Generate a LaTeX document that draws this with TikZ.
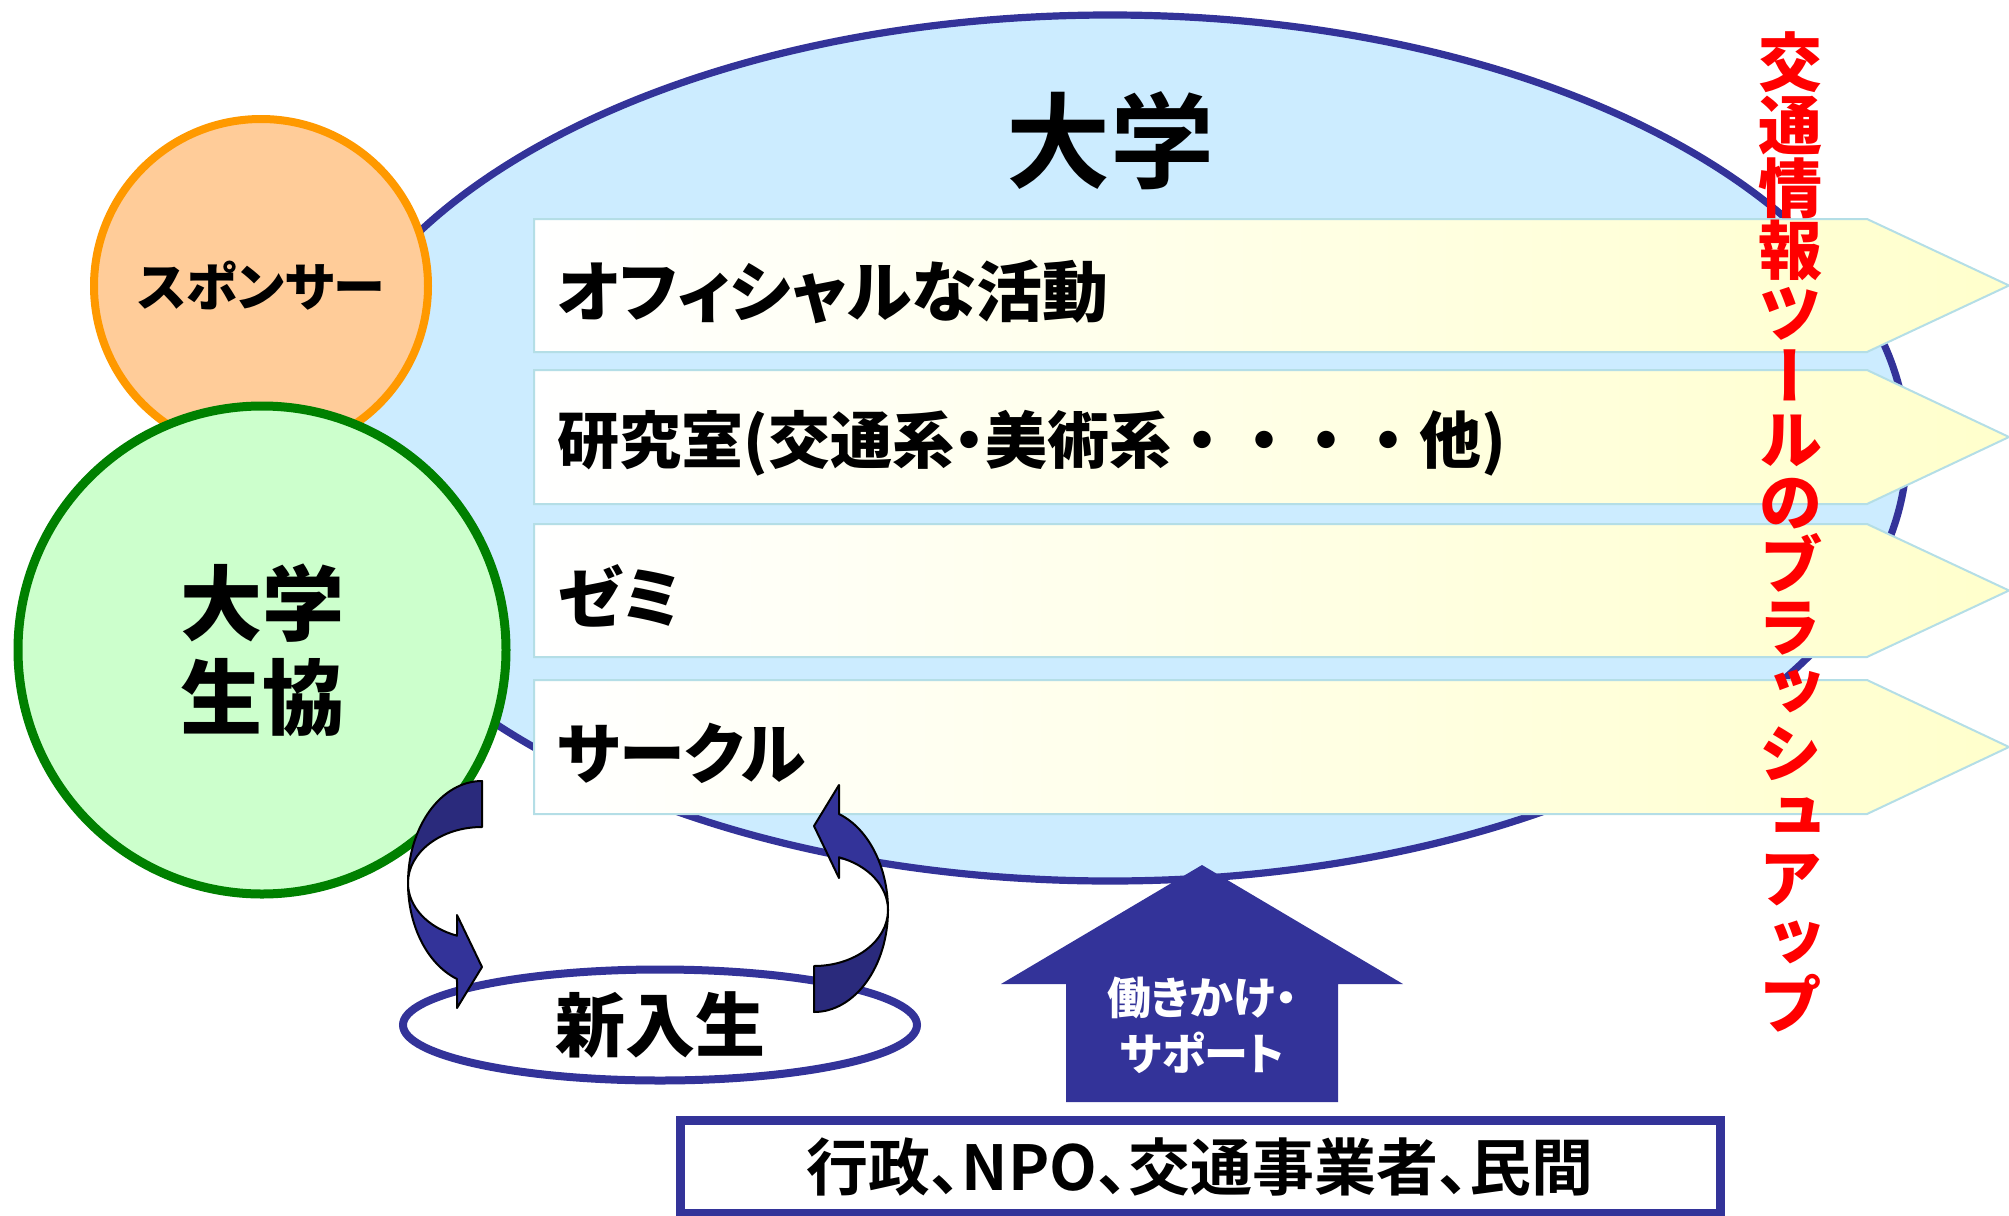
\documentclass[tikz,border=0pt]{standalone}
\usepackage{fontspec}
\usetikzlibrary{shapes.geometric}
\IfFontExistsTF{Noto Sans CJK JP Black}{%
  \newfontfamily\jpk{Noto Sans CJK JP Black}[RawFeature=+palt]
  \newfontfamily\jpkn{Noto Sans CJK JP Black}
  \newfontfamily\jpkv{Noto Sans CJK JP Black}[RawFeature=+vert]
}{%
  \newfontfamily\jpk{Noto Sans CJK JP Bold}[RawFeature=+palt]
  \newfontfamily\jpkn{Noto Sans CJK JP Bold}
  \newfontfamily\jpkv{Noto Sans CJK JP Bold}[RawFeature=+vert]
}
\newfontfamily\jpb{Noto Sans CJK JP Bold}
\newfontfamily\jpbp{Noto Sans CJK JP Bold}[RawFeature=+palt]
\definecolor{uniblue}{HTML}{333399}
\definecolor{unifill}{HTML}{CCECFF}
\definecolor{sponfill}{HTML}{FFCC99}
\definecolor{sponline}{HTML}{FF9900}
\definecolor{coopfill}{HTML}{CCFFCC}
\definecolor{coopline}{HTML}{008000}
\definecolor{pentline}{HTML}{B4DEE6}
\definecolor{pentright}{HTML}{FFFFCC}
\definecolor{arrdark}{HTML}{2A2A7C}
\definecolor{redtext}{HTML}{FF0000}
\tikzset{
  pentbox/.style={draw=pentline, line width=1pt, left color=white, right color=pentright, shading angle=90},
  penttext/.style={anchor=west, inner sep=0pt, font=\jpk\fontsize{32}{36}\selectfont},
  curvarr/.pic={
    \filldraw[fill=arrdark, draw=black, line width=1pt, line join=round]
      (0,102) arc[start angle=90, end angle=180, x radius=74, y radius=102]
      arc[start angle=180, end angle=90, x radius=74, y radius=56] -- cycle;
    \filldraw[fill=uniblue, draw=black, line width=1pt, line join=round]
      (-74,0) arc[start angle=180, end angle=250.25, x radius=74, y radius=102]
      -- (-25,-125) -- (0,-84) -- (-25,-32) -- (250.25:74 and 56)
      arc[start angle=250.25, end angle=180, x radius=74, y radius=56] -- cycle;
  }
}
\begin{document}
\begin{tikzpicture}[x=0.5pt, y=0.5pt]
\useasboundingbox (0,0) rectangle (2009,-1216);
% university ellipse
\node[ellipse, draw=uniblue, fill=unifill, line width=3.6pt, inner sep=0pt,
      minimum width=797pt, minimum height=433pt] (univ) at (1110,-448) {};
\node[inner sep=0pt, font=\jpb\fontsize{52}{56}\selectfont] (title) at (1110,-141) {大学};
% sponsor
\node[circle, draw=sponline, fill=sponfill, line width=4pt, inner sep=0pt,
      minimum size=167pt, font=\jpk\fontsize{26}{30}\selectfont] (sponsor) at (261,-286) {スポンサー};
% co-op
\node[circle, draw=coopline, fill=coopfill, line width=4.5pt, inner sep=0pt, align=center,
      minimum size=244pt, font=\jpk\fontsize{41}{47}\selectfont] (coop) at (262,-650) {大学\\生協};
% pentagons
\path[pentbox] (534,-219) -- (1867,-219) -- (2009,-285.5) -- (1867,-352) -- (534,-352) -- cycle;
\path[pentbox] (534,-370) -- (1867,-370) -- (2009,-437) -- (1867,-504) -- (534,-504) -- cycle;
\path[pentbox] (534,-524) -- (1867,-524) -- (2009,-590.5) -- (1867,-657) -- (534,-657) -- cycle;
\path[pentbox] (534,-680) -- (1867,-680) -- (2009,-747) -- (1867,-814) -- (534,-814) -- cycle;
\node[penttext, font=\jpk\fontsize{33}{36}\selectfont] (t1) at (557,-292) {オフィシャルな活動};
\node[penttext, font=\jpkn\fontsize{31}{36}\selectfont] (t2) at (557,-443) {研究室(交通系{\jpk ・}美術系・・・・他)};
\node[penttext, font=\jpk\fontsize{33}{36}\selectfont] (t3) at (557,-596) {ゼミ};
\node[penttext, font=\jpk\fontsize{33}{36}\selectfont] (t4) at (557,-753) {サークル};
% support block arrow
\fill[uniblue] (1202,-865) -- (1403,-984) -- (1338,-984) -- (1338,-1102)
  -- (1066,-1102) -- (1066,-984) -- (1001,-984) -- cycle;
\node[inner sep=0pt, align=center, text=white,
      font=\jpk\fontsize{22}{28}\selectfont] (support) at (1202,-1025) {働きかけ・\\サポート};
% freshmen
\node[ellipse, draw=uniblue, fill=white, line width=4pt, inner sep=0pt,
      minimum width=257pt, minimum height=55.5pt, font=\jpk\fontsize{35}{40}\selectfont]
      (fresh) at (660,-1025) {新入生};
% curved arrows
\pic (arrL) at (482,-883) {curvarr};
\pic[rotate=180] (arrR) at (814,-910) {curvarr};
% bottom box
\node[draw=uniblue, fill=white, line width=4.5pt, inner sep=0pt,
      minimum width=520pt, minimum height=46.5pt, font=\jpbp\fontsize{31}{34}\selectfont]
      (actors) at (1200,-1166.5) {行政、NPO、交通事業者、民間};
% vertical red text
\node[inner sep=0pt, align=center, text=redtext,
      font=\jpkv\fontsize{32}{31.4}\selectfont] (brush) at (1790,-532)
  {交\\通\\情\\報\\ツ\\ー\\ル\\の\\ブ\\ラ\\ッ\\シ\\ュ\\ア\\ッ\\プ};
\end{tikzpicture}
\end{document}
